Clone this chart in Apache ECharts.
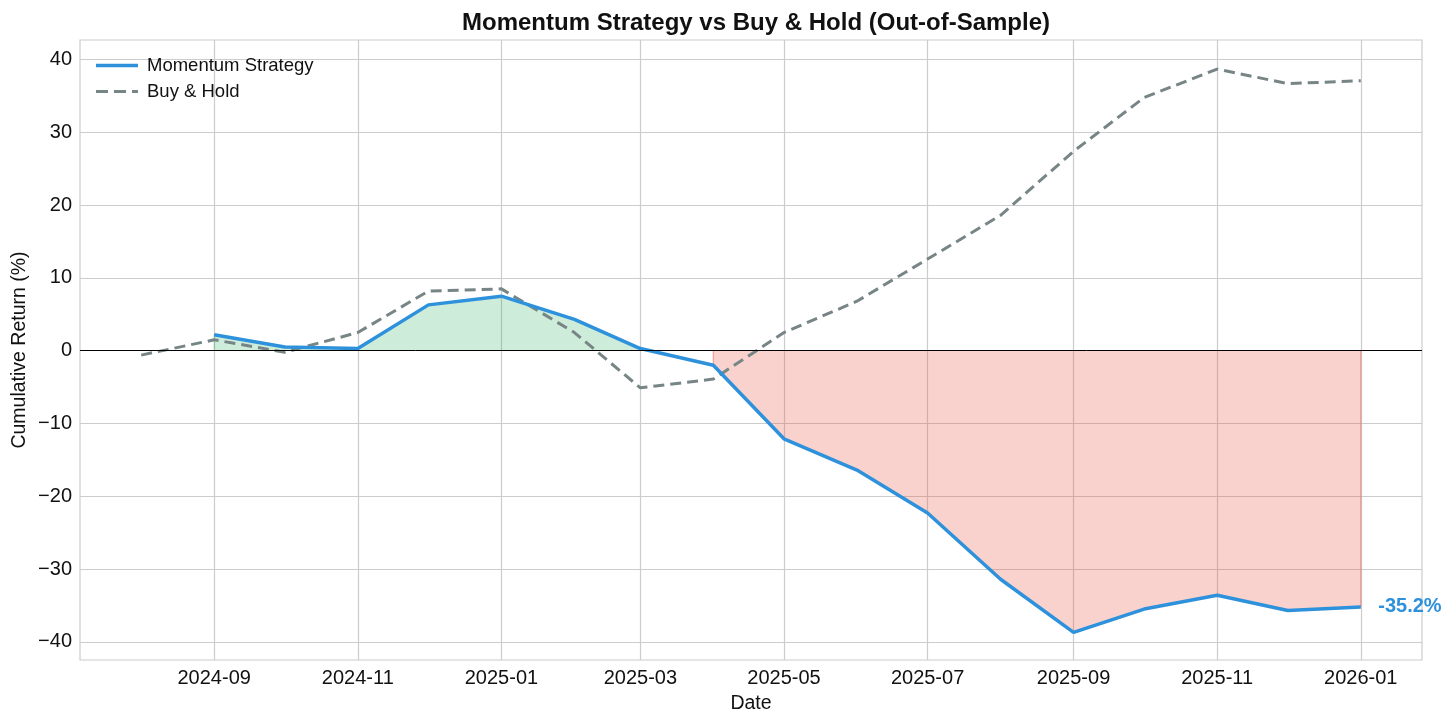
<!DOCTYPE html>
<html>
<head>
<meta charset="utf-8">
<script src="https://cdn.jsdelivr.net/npm/echarts@6/dist/echarts.min.js"></script>
<style>html,body{margin:0;padding:0;background:#fff;}#c{width:1456px;height:724px;}</style>
</head>
<body>
<div id="c"></div>
<script>
// ---- data ----
const bhMonths = ['2024-08','2024-09','2024-10','2024-11','2024-12','2025-01','2025-02','2025-03','2025-04','2025-05','2025-06','2025-07','2025-08','2025-09','2025-10','2025-11','2025-12','2026-01'];
const buyHold = [-0.6, 1.5, -0.2, 2.5, 8.2, 8.5, 2.5, -5.1, -3.9, 2.5, 6.8, 12.6, 18.6, 27.4, 34.8, 38.7, 36.7, 37.1];
const momMonths = ['2024-09','2024-10','2024-11','2024-12','2025-01','2025-02','2025-03','2025-04','2025-05','2025-06','2025-07','2025-08','2025-09','2025-10','2025-11','2025-12','2026-01'];
const momentum = [2.2, 0.5, 0.3, 6.3, 7.5, 4.3, 0.3, -2.0, -12.1, -16.4, -22.3, -31.4, -38.7, -35.5, -33.6, -35.7, -35.2];
const xTicks = ['2024-09','2024-11','2025-01','2025-03','2025-05','2025-07','2025-09','2025-11','2026-01'];
const yTicks = [-40, -30, -20, -10, 0, 10, 20, 30, 40];

function ts(s){ const p = s.split('-'); return Date.UTC(+p[0], +p[1]-1, +(p[2]||1)); }
function fmtMonth(v){ const d = new Date(v); const m = d.getUTCMonth()+1; return d.getUTCFullYear() + '-' + (m<10?'0':'') + m; }

const bhData = bhMonths.map((m,i)=>[ts(m), buyHold[i]]);
const momData = momMonths.map((m,i)=>[ts(m), momentum[i]]);
function fillPoly(pred){
  const pts = momData.filter(p=>pred(p[1]));
  if(!pts.length) return [];
  return [[pts[0][0],0]].concat(pts).concat([[pts[pts.length-1][0],0]]);
}
const greenFill = fillPoly(v=>v>=0);
const redFill = fillPoly(v=>v<0);
const lastIdx = momData.length-1;

const font = 'Liberation Sans, Arial, sans-serif';
const txt = '#111';
const chart = echarts.init(document.getElementById('c'), null, {renderer:'canvas'});
chart.setOption({
  backgroundColor:'#fff',
  animation:false,
  title:{text:'Momentum Strategy vs Buy & Hold (Out-of-Sample)', left:457, top:6,
    textStyle:{fontFamily:font, fontSize:24, fontWeight:'bold', color:txt}},
  grid:{left:80, right:34, top:40, bottom:64, show:true, borderColor:'#cccccc', borderWidth:1.2, containLabel:false},
  legend:{orient:'vertical', left:91, top:51, itemGap:7, itemWidth:42, itemHeight:3.5,
    textStyle:{fontFamily:font, fontSize:18.5, color:txt, padding:[0,0,0,4]},
    data:[
      {name:'Momentum Strategy', icon:'path://M0,0h42v3.5h-42z'},
      {name:'Buy & Hold', icon:'path://M0,0h12v3h-12zM18,0h12v3h-12zM36,0h6v3h-6z'}
    ]},
  xAxis:{type:'value', min:ts('2024-07-06'), max:ts('2026-01-27'),
    name:'Date', nameLocation:'middle', nameGap:34, nameTextStyle:{fontFamily:font, fontSize:19.5, color:txt},
    axisLine:{show:false}, axisTick:{show:false, customValues:xTicks.map(ts)},
    axisLabel:{customValues:xTicks.map(ts), formatter:fmtMonth, fontFamily:font, fontSize:20, color:txt, margin:8},
    splitLine:{show:true, lineStyle:{color:'#cccccc', width:1.2}}},
  yAxis:{type:'value', min:-42.5, max:42.7,
    name:'Cumulative Return (%)', nameLocation:'middle', nameGap:50, nameMoveOverlap:false,
    nameTextStyle:{fontFamily:font, fontSize:19.5, color:txt},
    axisLine:{show:false}, axisTick:{show:false, customValues:yTicks},
    axisLabel:{customValues:yTicks, formatter:v=>(v<0?'\u2212'+Math.abs(v):String(v)), fontFamily:font, fontSize:20, color:txt, margin:8},
    splitLine:{show:true, lineStyle:{color:'#cccccc', width:1.2}}},
  series:[
    {name:'gainFill', type:'line', data:greenFill, showSymbol:false, symbol:'none', silent:true, z:1,
      lineStyle:{color:'rgba(39,174,96,0.36)', width:1}, areaStyle:{color:'rgba(39,174,96,0.33)', origin:0}},
    {name:'lossFill', type:'line', data:redFill, showSymbol:false, symbol:'none', silent:true, z:1,
      lineStyle:{color:'rgba(231,76,60,0.45)', width:1.2}, areaStyle:{color:'rgba(231,76,60,0.36)', origin:0}},
    {name:'Buy & Hold', type:'line', data:bhData, showSymbol:false, symbol:'none', z:3,
      color:'#778586', lineStyle:{color:'#778586', width:3, type:[11,6]}},
    {name:'Momentum Strategy', type:'line', data:momData, symbol:'none', showSymbol:false, z:4,
      color:'#2e91dc', lineStyle:{color:'#2e91dc', width:3.5},
      markLine:{silent:true, symbol:'none', label:{show:false}, lineStyle:{color:'#000', width:1, type:'solid'}, data:[{yAxis:0}]},
      markPoint:{symbol:'circle', symbolSize:1, silent:true, itemStyle:{color:'rgba(0,0,0,0)'},
        data:[{coord:momData[lastIdx], value:momentum[lastIdx],
          label:{show:true, position:'right', distance:17, formatter:p=>p.value.toFixed(1)+'%',
            fontFamily:font, fontSize:20, fontWeight:'bold', color:'#2e91dc'}}]}}
  ]
});
</script>
</body>
</html>
